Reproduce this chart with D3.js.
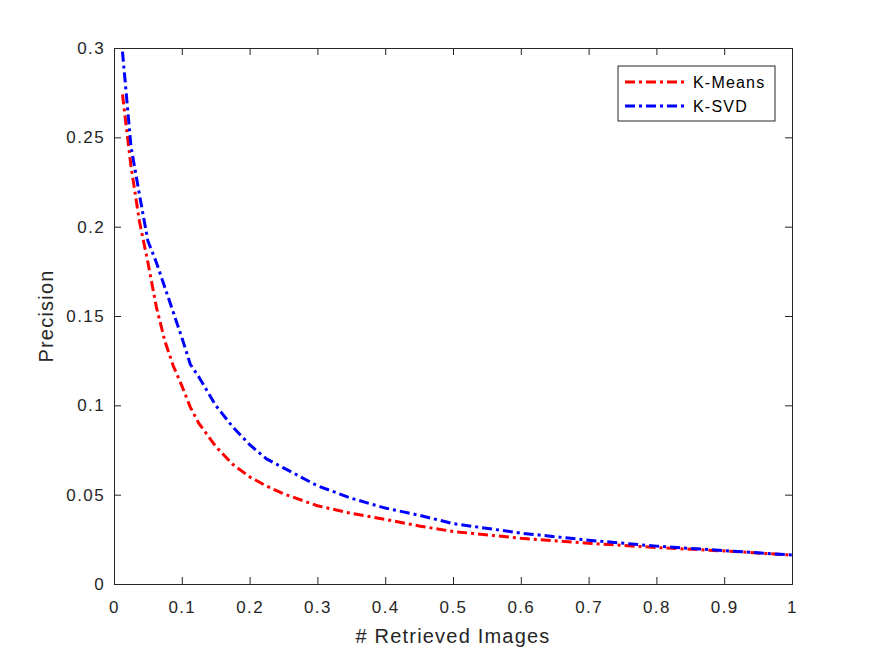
<!DOCTYPE html>
<html>
<head>
<meta charset="utf-8">
<script src="https://cdn.jsdelivr.net/npm/d3@7"></script>
<style>
  body { margin: 0; background: #fff; }
  text { font-family: "Liberation Sans", Arial, sans-serif; fill: #262626; }
</style>
</head>
<body>
<div id="chart"></div>
<script>
// values
let xValues = [0.0125, 0.025, 0.0375, 0.05, 0.0625, 0.075, 0.0875, 0.1, 0.1125, 0.125,
               0.15, 0.175, 0.2, 0.225, 0.25, 0.3, 0.35, 0.4, 0.45, 0.5, 0.6, 0.7, 0.8, 0.9, 1.0];
let kMeans = [0.274, 0.234, 0.203, 0.180, 0.155, 0.136, 0.122, 0.111, 0.099, 0.090,
              0.077, 0.067, 0.060, 0.0548, 0.0505, 0.0438, 0.0395, 0.0362, 0.0325, 0.0294,
              0.0256, 0.0228, 0.0204, 0.0185, 0.0162];
let kSvd = [0.298, 0.245, 0.218, 0.192, 0.180, 0.166, 0.152, 0.138, 0.123, 0.116,
            0.100, 0.088, 0.078, 0.070, 0.065, 0.055, 0.048, 0.0425, 0.0385, 0.0338,
            0.0285, 0.0245, 0.0212, 0.0187, 0.0162];
let seriesNames = ["K-Means", "K-SVD"];
let seriesColors = ["#ff0000", "#0000ff"];
let xTicks = [0, 0.1, 0.2, 0.3, 0.4, 0.5, 0.6, 0.7, 0.8, 0.9, 1];
let yTicks = [0, 0.05, 0.1, 0.15, 0.2, 0.25, 0.3];

let margin = {left: 114, right: 83, top: 48, bottom: 73};
let width = 875 - margin.left - margin.right;
let height = 657 - margin.top - margin.bottom;

let svg = d3.select("#chart").append("svg")
    .attr("width", 875)
    .attr("height", 657)
    .append("g")
    .attr("transform", "translate(" + margin.left + "," + margin.top + ")");

let x = d3.scaleLinear().domain([0, 1]).range([0, width]);
let y = d3.scaleLinear().domain([0, 0.3]).range([height, 0]);

let fmt = d => d3.format("")(+d.toFixed(2));
let axisColor = "#262626";

// bottom / left axes with inward ticks, top / right mirrored
let axBottom = svg.append("g").attr("transform", "translate(0," + height + ")")
    .call(d3.axisBottom(x).tickValues(xTicks).tickSize(-7).tickPadding(17).tickFormat(fmt));
let axLeft = svg.append("g")
    .call(d3.axisLeft(y).tickValues(yTicks).tickSize(-7).tickPadding(9).tickFormat(fmt));
let axTop = svg.append("g")
    .call(d3.axisTop(x).tickValues(xTicks).tickSize(-7).tickFormat(""));
let axRight = svg.append("g").attr("transform", "translate(" + width + ",0)")
    .call(d3.axisRight(y).tickValues(yTicks).tickSize(-7).tickFormat(""));

[axBottom, axLeft, axTop, axRight].forEach(g => {
    g.select(".domain").attr("stroke", axisColor).attr("stroke-width", 1);
    g.selectAll(".tick line").attr("stroke", axisColor);
    g.selectAll(".tick text").style("font-size", "17px").style("letter-spacing", "1.4px").attr("fill", axisColor);
});

// axis labels
svg.append("text")
    .attr("x", width / 2)
    .attr("y", height + 59)
    .style("text-anchor", "middle")
    .style("font-size", "20px")
    .style("letter-spacing", "1.2px")
    .text("# Retrieved Images");

svg.append("text")
    .attr("transform", "translate(-61," + height / 2 + ") rotate(-90)")
    .style("text-anchor", "middle")
    .style("font-size", "20px")
    .style("letter-spacing", "1.2px")
    .text("Precision");

// lines
let line = d3.line().x(d => x(d[0])).y(d => y(d[1]));
let series = [kMeans, kSvd];
series.forEach((vals, i) => {
    svg.append("path")
        .attr("d", line(xValues.map((xv, j) => [xv, vals[j]])))
        .attr("fill", "none")
        .attr("stroke", seriesColors[i])
        .attr("stroke-width", 3)
        .attr("stroke-dasharray", "10,4,3,4");
});

// legend
let legend = svg.append("g").attr("transform", "translate(" + (618 - margin.left) + "," + (66 - margin.top) + ")");
legend.append("rect")
    .attr("width", 157)
    .attr("height", 55)
    .attr("fill", "#fff")
    .attr("stroke", axisColor)
    .attr("stroke-width", 1);
seriesNames.forEach((name, i) => {
    let yy = 16 + i * 24;
    legend.append("line")
        .attr("x1", 7).attr("x2", 69)
        .attr("y1", yy).attr("y2", yy)
        .attr("stroke", seriesColors[i])
        .attr("stroke-width", 3)
        .attr("stroke-dasharray", "10,4,3,4");
    legend.append("text")
        .attr("x", 75)
        .attr("y", yy + 6)
        .style("font-size", "16px")
        .style("letter-spacing", "1.2px")
        .style("fill", "#000")
        .text(name);
});
</script>
</body>
</html>
